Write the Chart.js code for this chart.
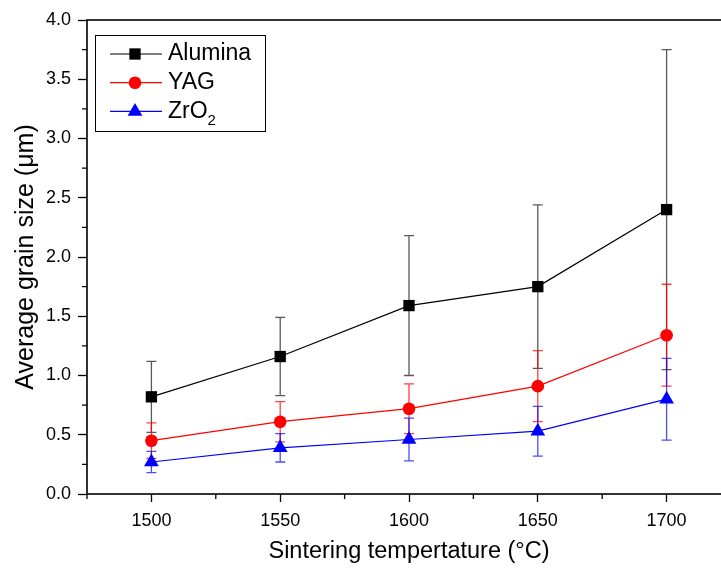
<!DOCTYPE html>
<html>
<head>
<meta charset="utf-8">
<script src="https://cdn.jsdelivr.net/npm/chart.js@4.4.1/dist/chart.umd.min.js"></script>
<style>
    html, body { margin: 0; padding: 0; background: #fff; overflow: hidden; }
    #wrap { position: relative; width: 740px; height: 568px; }
</style>
</head>
<body>
<div id="wrap"><canvas id="chart"></canvas></div>
<script>
/* Average grain size vs sintering temperature */

const temps = [1500, 1550, 1600, 1650, 1700];

const alumina = [0.82, 1.16, 1.59, 1.75, 2.40];
const aluminaErr = [0.30, 0.33, 0.59, 0.69, 1.35];

const yag = [0.45, 0.61, 0.72, 0.91, 1.34];
const yagErr = [0.15, 0.17, 0.21, 0.30, 0.43];

const zro2 = [0.27, 0.39, 0.46, 0.53, 0.80];
const zro2Err = [0.09, 0.12, 0.18, 0.21, 0.345];

const seriesNames = ['Alumina', 'YAG', 'ZrO'];
const xTitle = 'Sintering tempertature (°C)';
const yTitle = 'Average grain size (μm)';

const FONT = "'Liberation Sans', Arial, sans-serif";

function toPoints(vals) {
    return temps.map((t, i) => ({ x: t, y: vals[i] }));
}

// Error bars drawn from data through the y scale, under the markers
const errorBars = {
    id: 'errorBars',
    beforeDatasetsDraw(chart) {
        const ctx = chart.ctx;
        const yScale = chart.scales.y;
        chart.data.datasets.forEach((ds, di) => {
            const meta = chart.getDatasetMeta(di);
            ctx.save();
            ctx.strokeStyle = ds.errColor;
            ctx.lineWidth = 1.3;
            meta.data.forEach((pt, i) => {
                const v = ds.data[i].y;
                const e = ds.err[i];
                const top = yScale.getPixelForValue(v + e);
                const bot = yScale.getPixelForValue(v - e);
                ctx.beginPath();
                ctx.moveTo(pt.x, top);
                ctx.lineTo(pt.x, bot);
                ctx.moveTo(pt.x - 5, top);
                ctx.lineTo(pt.x + 5, top);
                ctx.moveTo(pt.x - 5, bot);
                ctx.lineTo(pt.x + 5, bot);
                ctx.stroke();
            });
            ctx.restore();
        });
    }
};

// Frame around the plot area and short minor ticks
const frame = {
    id: 'frame',
    afterDraw(chart) {
        const ctx = chart.ctx;
        const a = chart.chartArea;
        ctx.save();
        ctx.strokeStyle = '#000';
        ctx.lineWidth = 1.6;
        ctx.strokeRect(a.left, a.top, a.right - a.left, a.bottom - a.top);

        ctx.lineWidth = 1.3;
        ctx.beginPath();
        chart.scales.y.ticks.forEach(t => {
            if (Math.abs(t.value * 2 - Math.round(t.value * 2)) > 1e-6) {
                const y = chart.scales.y.getPixelForValue(t.value);
                ctx.moveTo(a.left - 5, y);
                ctx.lineTo(a.left, y);
            }
        });
        chart.scales.x.ticks.forEach(t => {
            if (t.value % 50 !== 0) {
                const x = chart.scales.x.getPixelForValue(t.value);
                ctx.moveTo(x, a.bottom);
                ctx.lineTo(x, a.bottom + 5);
            }
        });
        ctx.stroke();
        ctx.restore();
    }
};

// Boxed legend in the upper-left corner of the plot
const boxLegend = {
    id: 'boxLegend',
    afterDraw(chart) {
        const ctx = chart.ctx;
        const a = chart.chartArea;
        const bx = a.left + 8, by = a.top + 15, bw = 170, bh = 96;
        ctx.save();
        ctx.strokeStyle = '#000';
        ctx.lineWidth = 1;
        ctx.strokeRect(bx + 0.5, by + 0.5, bw, bh);

        chart.data.datasets.forEach((ds, i) => {
            const y = by + 19 + i * 28.7;
            ctx.strokeStyle = ds.borderColor;
            ctx.lineWidth = 1.2;
            ctx.beginPath();
            ctx.moveTo(bx + 15, y);
            ctx.lineTo(bx + 67, y);
            ctx.stroke();
            ctx.fillStyle = ds.backgroundColor;
            Chart.helpers.drawPoint(ctx, {
                pointStyle: ds.pointStyle,
                radius: ds.pointRadius,
                rotation: 0,
                borderWidth: 0
            }, bx + 40, y);

            ctx.fillStyle = '#000';
            ctx.font = '23px ' + FONT;
            ctx.textBaseline = 'middle';
            ctx.textAlign = 'left';
            ctx.fillText(seriesNames[i], bx + 73, y);
            if (i === 2) {
                const w = ctx.measureText(seriesNames[i]).width;
                ctx.font = '15px ' + FONT;
                ctx.fillText('2', bx + 73 + w, y + 9);
            }
        });
        ctx.restore();
    }
};

const ctx = document.getElementById('chart').getContext('2d');

new Chart(ctx, {
    type: 'line',
    data: {
        datasets: [
            {
                label: 'Alumina',
                data: toPoints(alumina),
                err: aluminaErr,
                errColor: 'rgba(0,0,0,0.65)',
                borderColor: '#000',
                backgroundColor: '#000',
                pointStyle: 'rect',
                pointRadius: 8
            },
            {
                label: 'YAG',
                data: toPoints(yag),
                err: yagErr,
                errColor: 'rgba(255,0,0,0.75)',
                borderColor: '#ff0000',
                backgroundColor: '#ff0000',
                pointStyle: 'circle',
                pointRadius: 6.3
            },
            {
                label: 'ZrO2',
                data: toPoints(zro2),
                err: zro2Err,
                errColor: 'rgba(0,0,255,0.7)',
                borderColor: '#0000ff',
                backgroundColor: '#0000ff',
                pointStyle: 'triangle',
                pointRadius: 8.5
            }
        ]
    },
    options: {
        responsive: true,
        maintainAspectRatio: false,
        animation: false,
        events: [],
        layout: { padding: { top: 20, right: 9, left: 0, bottom: 0 } },
        elements: {
            line: { borderWidth: 1.2, tension: 0, fill: false },
            point: { borderWidth: 0, hoverRadius: 0 }
        },
        plugins: {
            legend: { display: false },
            tooltip: { enabled: false }
        },
        scales: {
            x: {
                type: 'linear',
                min: 1475,
                max: 1725,
                afterFit(scale) { scale.height = 74; },
                border: { display: false },
                grid: {
                    drawOnChartArea: false,
                    tickLength: 8,
                    tickWidth: 1.3,
                    tickColor: c => (c.tick && c.tick.value % 50 === 0) ? '#000' : 'transparent'
                },
                ticks: {
                    stepSize: 25,
                    autoSkip: false,
                    maxRotation: 0,
                    padding: 8,
                    color: '#000',
                    font: { family: FONT, size: 18 },
                    callback: v => (v % 50 === 0 ? String(v) : '')
                },
                title: {
                    display: true,
                    text: xTitle,
                    color: '#000',
                    font: { family: FONT, size: 23.5 },
                    padding: { top: 0, bottom: 2 }
                }
            },
            y: {
                min: 0,
                max: 4,
                afterFit(scale) { scale.width = 87; },
                border: { display: false },
                grid: {
                    drawOnChartArea: false,
                    tickLength: 9,
                    tickWidth: 1.3,
                    tickColor: c => (c.tick && Math.abs(c.tick.value * 2 - Math.round(c.tick.value * 2)) < 1e-6) ? '#000' : 'transparent'
                },
                ticks: {
                    stepSize: 0.25,
                    autoSkip: false,
                    padding: 7,
                    color: '#000',
                    font: { family: FONT, size: 18 },
                    callback: v => (Math.abs(v * 2 - Math.round(v * 2)) < 1e-6 ? v.toFixed(1) : '')
                },
                title: {
                    display: true,
                    text: yTitle,
                    color: '#000',
                    font: { family: FONT, size: 25 },
                    padding: { top: 11, bottom: 0 }
                }
            }
        }
    },
    plugins: [errorBars, frame, boxLegend]
});
</script>
</body>
</html>
